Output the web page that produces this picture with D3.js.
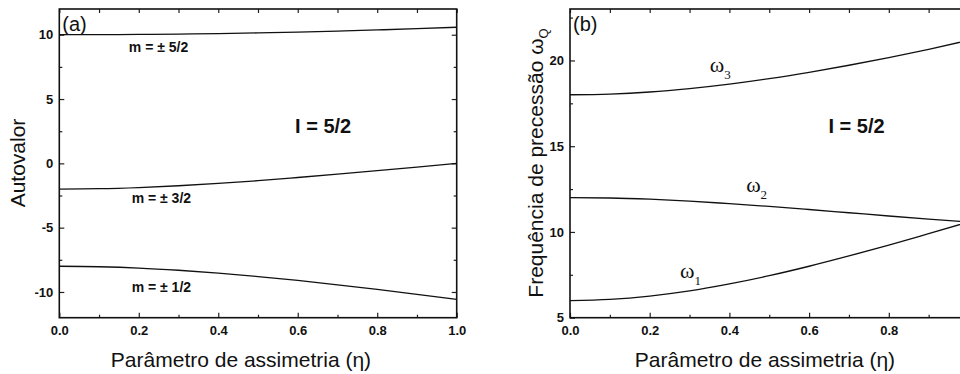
<!DOCTYPE html>
<html>
<head>
<meta charset="utf-8">
<script src="https://cdn.jsdelivr.net/npm/d3@7/dist/d3.min.js"></script>
<style>
	body { margin: 0; background: #fff; overflow: hidden; }
	svg { display: block; }
	text { font-family: "Liberation Sans", Arial, sans-serif; fill: #111; }
	.tick text { font-size: 13px; font-weight: bold; }
	.tick line { stroke: #222; stroke-width: 1.2; }
	.domain { display: none; }
</style>
</head>
<body>
<div id="container"></div>
<script>
// asymmetry parameter (x values)
const eta = [0, 0.1, 0.2, 0.3, 0.4, 0.5, 0.6, 0.7, 0.8, 0.9, 1.0];

// (a) eigenvalues
const m52 = [10.00, 10.01, 10.02, 10.05, 10.09, 10.14, 10.20, 10.28, 10.37, 10.47, 10.58];
const m32 = [-2.00, -1.97, -1.88, -1.74, -1.56, -1.35, -1.10, -0.84, -0.57, -0.29, 0.00];
const m12 = [-8.00, -8.04, -8.14, -8.31, -8.53, -8.80, -9.10, -9.44, -9.80, -10.18, -10.58];

// (b) precession frequencies
const w1 = [6.00, 6.07, 6.26, 6.56, 6.97, 7.45, 8.00, 8.60, 9.23, 9.90, 10.58];
const w2 = [12.00, 11.98, 11.91, 11.80, 11.65, 11.49, 11.31, 11.12, 10.93, 10.75, 10.58];
const w3 = [18.00, 18.04, 18.16, 18.36, 18.62, 18.94, 19.31, 19.72, 20.17, 20.65, 21.17];

// ticks
const xMajor = [0, 0.2, 0.4, 0.6, 0.8, 1.0];
const xMinor = [0.1, 0.3, 0.5, 0.7, 0.9];
const yMajorA = [-10, -5, 0, 5, 10];
const yMinorA = [-7.5, -2.5, 2.5, 7.5];
const yMajorB = [5, 10, 15, 20];
const yMinorB = [7.5, 12.5, 17.5, 22.5];

const width = 960, height = 374;

let svg = d3.select("#container")
	.append("svg")
	.attr("width", width)
	.attr("height", height);

function draw_panel(p) {
	const x = d3.scaleLinear().domain([0, 1]).range(p.xr);
	const y = d3.scaleLinear().domain(p.yd).range([317.7, 9]);

	let g = svg.append("g").attr("class", p.id);

	// ticks, all pointing inside
	// labels only where they fit inside the picture
	const fmt = d3.format(".1f");
	g.append("g").attr("transform", "translate(0," + y.range()[0] + ")")
		.call(d3.axisBottom(x).tickValues(xMajor).tickSize(-5).tickPadding(8)
			.tickFormat(d => x(d) + 10 < width ? fmt(d) : ""));
	g.append("g").attr("transform", "translate(0," + y.range()[0] + ")")
		.call(d3.axisBottom(x).tickValues(xMinor).tickSize(-3).tickFormat(""));
	g.append("g").attr("transform", "translate(0," + y.range()[1] + ")")
		.call(d3.axisTop(x).tickValues(xMajor.concat(xMinor)).tickSize(-4).tickFormat(""));

	g.append("g").attr("transform", "translate(" + x.range()[0] + ",0)")
		.call(d3.axisLeft(y).tickValues(p.yMajor).tickSize(-5).tickPadding(6).tickFormat(d => String(d)));
	g.append("g").attr("transform", "translate(" + x.range()[0] + ",0)")
		.call(d3.axisLeft(y).tickValues(p.yMinor).tickSize(-3).tickFormat(""));
	g.append("g").attr("transform", "translate(" + x.range()[1] + ",0)")
		.call(d3.axisRight(y).tickValues(p.yMajor).tickSize(-5).tickFormat(""));
	g.append("g").attr("transform", "translate(" + x.range()[1] + ",0)")
		.call(d3.axisRight(y).tickValues(p.yMinor).tickSize(-3).tickFormat(""));

	// frame
	g.append("rect")
		.attr("x", x.range()[0])
		.attr("y", y.range()[1])
		.attr("width", x.range()[1] - x.range()[0])
		.attr("height", y.range()[0] - y.range()[1])
		.attr("fill", "none")
		.attr("stroke", "#111")
		.attr("stroke-width", 1.6);

	// curves
	const line = d3.line()
		.x((d, i) => x(eta[i]))
		.y(d => y(d))
		.curve(d3.curveMonotoneX);

	g.selectAll("path.curve")
		.data(p.series)
		.enter()
		.append("path")
		.attr("class", "curve")
		.attr("d", line)
		.attr("fill", "none")
		.attr("stroke", "#111")
		.attr("stroke-width", 1.3);

	// panel letter
	g.append("text")
		.attr("x", x.range()[0] + 3)
		.attr("y", 31)
		.attr("font-size", "20px")
		.text(p.letter);

	// I = 5/2
	g.append("text")
		.attr("x", x(p.spin[0]))
		.attr("y", y(p.spin[1]))
		.attr("text-anchor", "middle")
		.attr("font-size", "20px")
		.attr("font-weight", "bold")
		.text("I = 5/2");

	// x title
	g.append("text")
		.attr("x", p.xTitle)
		.attr("y", 367)
		.attr("text-anchor", "middle")
		.attr("font-size", "21px")
		.text("Parâmetro de assimetria (η)");

	return {x: x, y: y, g: g};
}

// panel (a)
let a = draw_panel({
	id: "panel_a", xr: [59.3, 456.7], yd: [-12, 12],
	yMajor: yMajorA, yMinor: yMinorA,
	series: [m52, m32, m12], letter: "(a)",
	spin: [0.664, 2.36], xTitle: 241
});

a.g.append("text")
	.attr("transform", "translate(25,163) rotate(-90)")
	.attr("text-anchor", "middle")
	.attr("font-size", "21px")
	.text("Autovalor");

const mLabels = [["5/2", 0.175, 8.62], ["3/2", 0.182, -3.09], ["1/2", 0.182, -9.97]];
a.g.selectAll("text.mlab")
	.data(mLabels)
	.enter()
	.append("text")
	.attr("class", "mlab")
	.attr("x", d => a.x(d[1]))
	.attr("y", d => a.y(d[2]))
	.attr("font-size", "14px")
	.attr("font-weight", "bold")
	.text(d => "m = ± " + d[0]);

// panel (b)
let b = draw_panel({
	id: "panel_b", xr: [570, 968.5], yd: [5, 23],
	yMajor: yMajorB, yMinor: yMinorB,
	series: [w1, w2, w3], letter: "(b)",
	spin: [0.719, 15.77], xTitle: 765
});

let ytb = b.g.append("text")
	.attr("transform", "translate(543,163) rotate(-90)")
	.attr("text-anchor", "middle")
	.attr("font-size", "21px");
ytb.append("tspan").text("Frequência de precessão ω");
ytb.append("tspan").attr("font-size", "13px").attr("dy", 5).text("Q");

const wLabels = [["3", 0.351, 19.33], ["2", 0.442, 12.33], ["1", 0.276, 7.31]];
let wl = b.g.selectAll("text.wlab")
	.data(wLabels)
	.enter()
	.append("text")
	.attr("class", "wlab")
	.attr("x", d => b.x(d[1]))
	.attr("y", d => b.y(d[2]))
	.style("font-family", "'Liberation Serif', 'Times New Roman', serif");
wl.append("tspan").attr("font-size", "22px").text("ω");
wl.append("tspan").attr("font-size", "13px").attr("dy", 7).text(d => d[0]);
</script>
</body>
</html>
